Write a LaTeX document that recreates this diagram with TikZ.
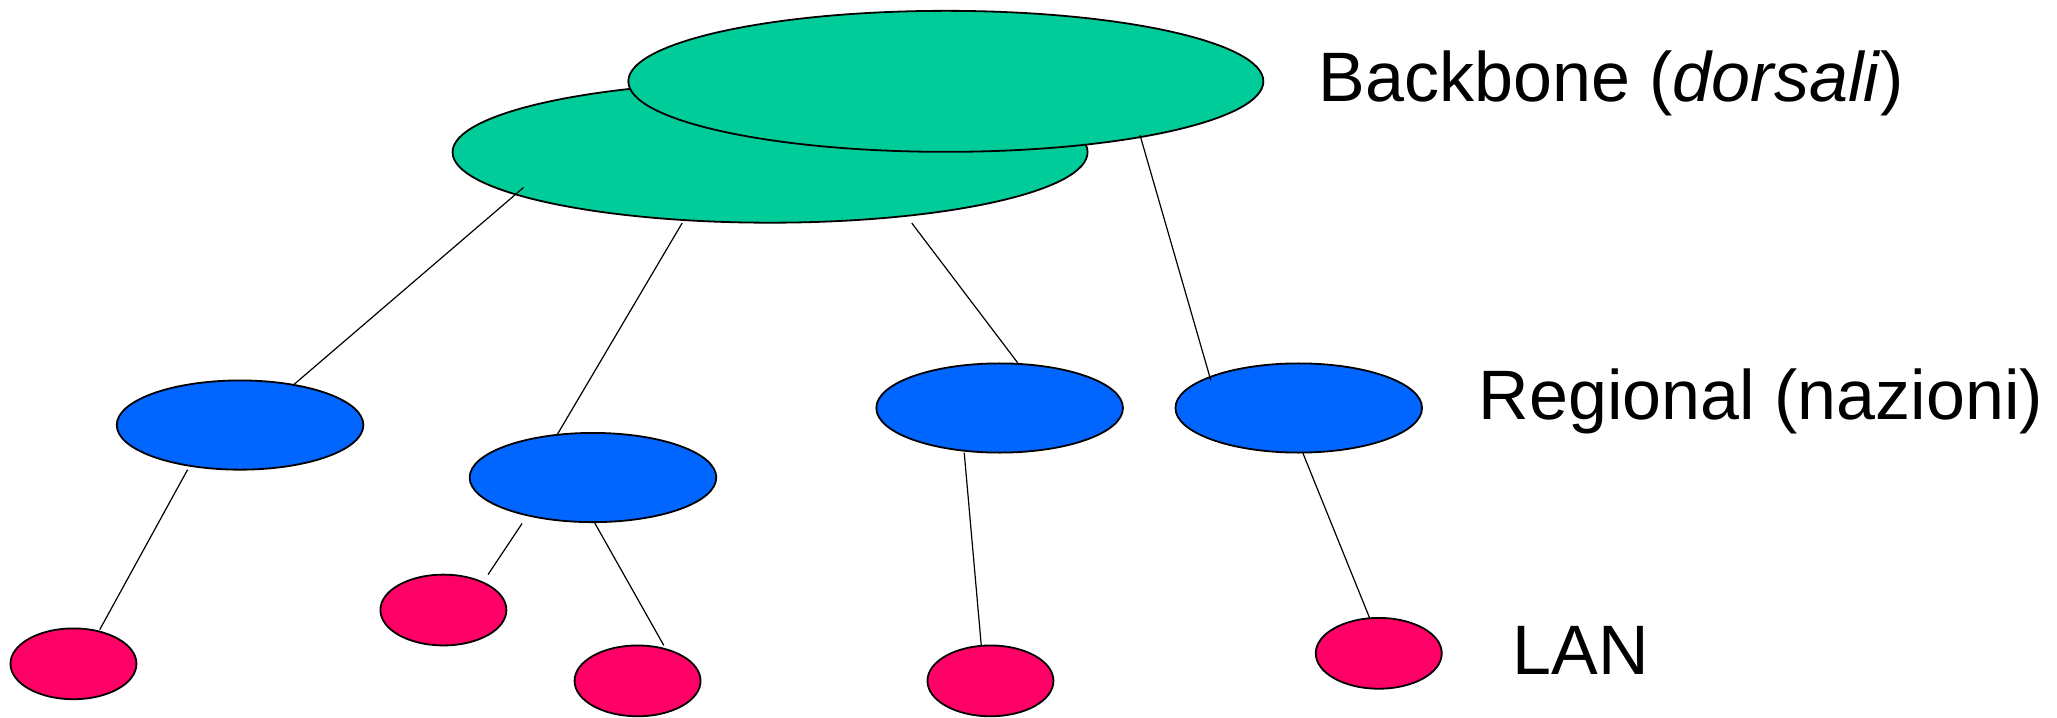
\documentclass[tikz,border=0pt]{standalone}
\usepackage{fontspec}
\setmainfont{Liberation Sans}
\usetikzlibrary{shapes.geometric}
\definecolor{bbgreen}{RGB}{0,204,153}
\definecolor{regblue}{RGB}{0,102,255}
\definecolor{lanred}{RGB}{255,0,102}
\tikzset{
  bbnet/.style={ellipse, draw=black, line width=0.9pt, fill=bbgreen, inner sep=0pt, minimum width=317.5pt, minimum height=70.5pt},
  regnet/.style={ellipse, draw=black, line width=0.9pt, fill=regblue, inner sep=0pt, minimum width=123.3pt, minimum height=44.6pt},
  lannet/.style={ellipse, draw=black, line width=0.9pt, fill=lanred, inner sep=0pt, minimum width=63pt, minimum height=35.4pt},
  link/.style={draw=black, line width=0.6pt},
  lbl/.style={anchor=base west, inner sep=0pt, font=\fontsize{35}{42}\selectfont}
}
\begin{document}
\begin{tikzpicture}[x=0.6559pt, y=-0.6559pt]
\useasboundingbox (0,0) rectangle (1568,547);
% backbone
\node[bbnet] (bb2) at (587,116) {};
\node[bbnet] (bb1) at (721,62) {};
% regional
\node[regnet] (r1) at (183,324) {};
\node[regnet] (r2) at (452,364) {};
\node[regnet] (r3) at (762,311) {};
\node[regnet] (r4) at (990,311) {};
% LAN
\node[lannet] (l1) at (56,506) {};
\node[lannet] (l2) at (338,465) {};
\node[lannet] (l3) at (486,519) {};
\node[lannet] (l4) at (755,519) {};
\node[lannet] (l5) at (1051,498) {};
% connectors
\draw[link] ([shift={(-188,27)}]bb2.center) -- (r1.37);
\draw[link] ([shift={(-67,54)}]bb2.center) -- (r2.129.6);
\draw[link] ([shift={(108,54)}]bb2.center) -- (r3.68.9);
\draw[link] ([shift={(148,41)}]bb1.center) -- ([shift={(-67,-21)}]r4.center);
\draw[link] ([shift={(-40,34)}]r1.center) -- ([shift={(20,-26)}]l1.center);
\draw[link] ([shift={(-54,35)}]r2.center) -- ([shift={(34,-27)}]l2.center);
\draw[link] ([shift={(1,34)}]r2.center) -- ([shift={(20,-27)}]l3.center);
\draw[link] ([shift={(-27,34)}]r3.center) -- ([shift={(-7,-27)}]l4.center);
\draw[link] ([shift={(3,34)}]r4.center) -- ([shift={(-7,-27)}]l5.center);
% labels
\node[lbl] (tbb) at (1005,77) {Backbone (\textit{dorsali})};
\node[lbl] (treg) at (1127,320) {Regional (nazioni)};
\node[lbl] (tlan) at (1153,514) {LAN};
\end{tikzpicture}
\end{document}
